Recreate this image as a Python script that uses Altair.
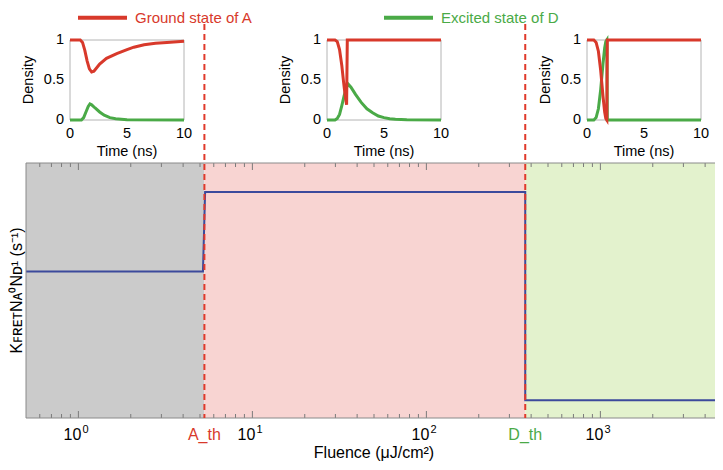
import altair as alt
import pandas as pd

# ---------------- main panel data ----------------
region_names = ["Below A_th", "A_th to D_th", "Above D_th"]
region_start = [0.5, 5.3, 370.0]
region_end = [5.3, 370.0, 5000.0]
region_colors = ["#cbcbcb", "#f8d4d2", "#e3f2cd"]

thresholds = [5.3, 370.0]
threshold_labels = ["A_th", "D_th"]

step_fluence = [0.5, 5.2, 5.35, 370.0, 370.0, 5000.0]
step_rate = [0.575, 0.575, 0.886, 0.886, 0.07, 0.07]

major_ticks = [1, 10, 100, 1000]
major_base = ["10", "10", "10", "10"]
major_exp = ["0", "1", "2", "3"]
minor_ticks = [0.6, 0.7, 0.8, 0.9, 2, 3, 4, 5, 6, 7, 8, 9,
               20, 30, 40, 50, 60, 70, 80, 90,
               200, 300, 400, 500, 600, 700, 800, 900,
               2000, 3000, 4000]

x_title = "Fluence (μJ/cm²)"
y_title = "KꜰʀᴇᴛNᴀ⁰Nᴅ¹ (s⁻¹)"

# ---------------- inset data ----------------
series_names = ["Ground state of A", "Excited state of D"]
series_colors = ["#d8392b", "#4aaa47"]

inset_x_ticks = [0, 5, 10]
inset_x_labels = ["0", "5", "10"]
inset_y_ticks = [0, 0.5, 1]
inset_y_labels = ["0", "0.5", "1"]
inset_x_title = "Time (ns)"
inset_y_title = "Density"

t_red1 = [0, 0.9, 1.1, 1.3, 1.5, 1.7, 1.9, 2.1, 2.6, 3.2, 4.1, 5.0, 5.6, 6.5, 7.5, 8.5, 10]
red1 = [1.0, 1.0, 0.97, 0.87, 0.74, 0.64, 0.60, 0.61, 0.70, 0.77, 0.83, 0.88, 0.91, 0.94, 0.96, 0.97, 0.985]
t_green1 = [0, 1.0, 1.2, 1.4, 1.6, 1.75, 1.9, 2.2, 2.6, 3.0, 3.5, 4.0, 5.0, 10]
green1 = [0, 0.0, 0.03, 0.1, 0.17, 0.2, 0.19, 0.15, 0.1, 0.06, 0.03, 0.015, 0.004, 0]

t_red2 = [0, 0.7, 0.9, 1.1, 1.3, 1.45, 1.6, 1.72, 1.78, 10]
red2 = [1.0, 1.0, 0.98, 0.88, 0.68, 0.48, 0.30, 0.19, 1.0, 1.0]
t_green2 = [0, 0.7, 0.9, 1.1, 1.3, 1.5, 1.7, 1.85, 2.1, 2.5, 3.0, 3.5, 4.0, 4.5, 5.0, 5.5, 6.0, 7.0, 10]
green2 = [0, 0.0, 0.02, 0.07, 0.18, 0.3, 0.4, 0.45, 0.41, 0.32, 0.22, 0.14, 0.09, 0.05, 0.03, 0.015, 0.008, 0.002, 0]

t_red3 = [0, 0.6, 0.8, 1.0, 1.2, 1.4, 1.55, 1.65, 1.74, 1.78, 10]
red3 = [1.0, 1.0, 0.97, 0.86, 0.62, 0.3, 0.1, 0.02, 0.0, 1.0, 1.0]
t_green3 = [0, 0.6, 0.8, 1.0, 1.2, 1.4, 1.55, 1.65, 1.74, 1.78, 10]
green3 = [0, 0.0, 0.03, 0.14, 0.38, 0.7, 0.9, 0.98, 1.0, 0.0, 0.0]

# ---------------- layout ----------------
W, H = 696, 255
INSET_LEFT = [44, 301, 561]
INSET_W = 114
INSET_TOP, INSET_BOTTOM = -123, -43
FONT = "Liberation Sans"
RED_LINE = "#e0392b"

xs = alt.Scale(type="log", domain=[0.5, 5000], nice=False)
ys = alt.Scale(domain=[0, 1], nice=False, zero=False)

regions = pd.DataFrame({"name": region_names, "start": region_start, "end": region_end})
step = pd.DataFrame({"f": step_fluence, "k": step_rate, "i": list(range(len(step_rate)))})
majors = pd.DataFrame({"f": major_ticks, "base": major_base, "exp": major_exp})
minors = pd.DataFrame({"f": minor_ticks})
thr = pd.DataFrame({"f": thresholds, "lab": threshold_labels})
frame = pd.DataFrame({"x0": [0.5], "x1": [5000], "y0": [0], "y1": [1]})

region_layer = alt.Chart(regions).mark_rect().encode(
    x=alt.X("start:Q", scale=xs, axis=None),
    x2="end:Q",
    y=alt.value(0), y2=alt.value(H),
    fill=alt.Fill("name:N", scale=alt.Scale(domain=region_names, range=region_colors), legend=None),
)

step_layer = alt.Chart(step).mark_line(color="#3c4a9c", strokeWidth=2).encode(
    x=alt.X("f:Q", scale=xs, axis=None),
    y=alt.Y("k:Q", scale=ys, axis=None),
    order="i:Q",
)


def tick_layer(df, y0, y1):
    return alt.Chart(df).mark_rule(color="#7a7a7a", strokeWidth=1).encode(
        x=alt.X("f:Q", scale=xs, axis=None), y=alt.value(y0), y2=alt.value(y1))


frame_layer = alt.Chart(frame).mark_rect(fillOpacity=0, stroke="#8a8a8a", strokeWidth=1).encode(
    x=alt.X("x0:Q", scale=xs, axis=None), x2="x1:Q",
    y=alt.Y("y0:Q", scale=ys, axis=None), y2="y1:Q")

dash_layer = alt.Chart(thr).mark_rule(color=RED_LINE, strokeWidth=2, strokeDash=[6, 4]).encode(
    x=alt.X("f:Q", scale=xs, axis=None), y=alt.value(-139), y2=alt.value(H))

# main axis labels (drawn through the log scale)
LAB_Y = H + 22
base_text = alt.Chart(majors).mark_text(fontSize=16, align="right", baseline="alphabetic", dx=3,
                                        color="#000000").encode(
    x=alt.X("f:Q", scale=xs, axis=None), y=alt.value(LAB_Y), text="base:N")
exp_text = alt.Chart(majors).mark_text(fontSize=11, align="left", baseline="alphabetic", dx=4, dy=-7,
                                       color="#000000").encode(
    x=alt.X("f:Q", scale=xs, axis=None), y=alt.value(LAB_Y), text="exp:N")


def thr_text(i):
    return alt.Chart(thr).transform_filter(f"datum.lab == '{threshold_labels[i]}'").mark_text(
        fontSize=16, align="center", baseline="alphabetic", color=series_colors[i]).encode(
        x=alt.X("f:Q", scale=xs, axis=None), y=alt.value(LAB_Y), text="lab:N")


x_title_text = alt.Chart(pd.DataFrame({"t": [x_title]})).mark_text(
    fontSize=16, align="center", baseline="alphabetic", color="#000000").encode(
    x=alt.value(W / 2), y=alt.value(H + 40), text="t:N")
y_title_text = alt.Chart(pd.DataFrame({"t": [y_title]})).mark_text(
    fontSize=16, align="center", baseline="alphabetic", angle=270, color="#000000").encode(
    x=alt.value(-4), y=alt.value(H / 2), text="t:N")

main = alt.layer(
    region_layer, step_layer,
    tick_layer(majors, H, H - 7), tick_layer(minors, H, H - 4),
    tick_layer(majors, 0, 7), tick_layer(minors, 0, 4),
    frame_layer, dash_layer,
    base_text, exp_text, thr_text(0), thr_text(1), x_title_text, y_title_text,
)

legend = alt.Legend(orient="none", legendX=50, legendY=-172, direction="horizontal", title=None,
                    symbolType="stroke", symbolSize=2401, symbolStrokeWidth=4,
                    labelFontSize=15, labelOffset=6, columnPadding=123,
                    labelColor={"expr": f"datum.label == '{series_names[0]}' ? '{series_colors[0]}' : '{series_colors[1]}'"})
cs = alt.Scale(domain=series_names, range=series_colors)


def inset(t_r, v_r, t_g, v_g, left):
    ixs = alt.Scale(domain=[0, 10], range=[left, left + INSET_W], nice=False, zero=False)
    iys = alt.Scale(domain=[0, 1], range=[INSET_BOTTOM, INSET_TOP], nice=False, zero=False)
    box = alt.Chart(pd.DataFrame({"x0": [0], "x1": [10], "y0": [0], "y1": [1]})).mark_rect(
        fillOpacity=0, stroke="#b4b4b4", strokeWidth=1).encode(
        x=alt.X("x0:Q", scale=ixs, axis=None), x2="x1:Q",
        y=alt.Y("y0:Q", scale=iys, axis=None), y2="y1:Q")
    g = alt.Chart(pd.DataFrame({"t": t_g, "v": v_g, "s": series_names[1]})).mark_line(strokeWidth=3).encode(
        x=alt.X("t:Q", scale=ixs, axis=None), y=alt.Y("v:Q", scale=iys, axis=None),
        color=alt.Color("s:N", scale=cs, legend=legend))
    r = alt.Chart(pd.DataFrame({"t": t_r, "v": v_r, "s": series_names[0]})).mark_line(strokeWidth=3).encode(
        x=alt.X("t:Q", scale=ixs, axis=None), y=alt.Y("v:Q", scale=iys, axis=None),
        color=alt.Color("s:N", scale=cs, legend=legend))
    xl = alt.Chart(pd.DataFrame({"t": inset_x_ticks, "lab": inset_x_labels})).mark_text(
        fontSize=14.5, align="center", baseline="alphabetic", color="#000000").encode(
        x=alt.X("t:Q", scale=ixs, axis=None), y=alt.value(INSET_BOTTOM + 18), text="lab:N")
    yl = alt.Chart(pd.DataFrame({"v": inset_y_ticks, "lab": inset_y_labels})).mark_text(
        fontSize=14.5, align="right", baseline="middle", dx=-6, color="#000000").encode(
        x=alt.value(left), y=alt.Y("v:Q", scale=iys, axis=None), text="lab:N")
    xt = alt.Chart(pd.DataFrame({"t": [inset_x_title]})).mark_text(
        fontSize=14.5, align="center", baseline="alphabetic", color="#000000").encode(
        x=alt.value(left + INSET_W / 2), y=alt.value(-7), text="t:N")
    yt = alt.Chart(pd.DataFrame({"t": [inset_y_title]})).mark_text(
        fontSize=14.5, align="center", baseline="alphabetic", angle=270, color="#000000").encode(
        x=alt.value(left - 37), y=alt.value((INSET_TOP + INSET_BOTTOM) / 2), text="t:N")
    return alt.layer(box, g, r, xl, yl, xt, yt)


chart = alt.layer(
    main,
    inset(t_red1, red1, t_green1, green1, INSET_LEFT[0]),
    inset(t_red2, red2, t_green2, green2, INSET_LEFT[1]),
    inset(t_red3, red3, t_green3, green3, INSET_LEFT[2]),
).resolve_scale(x="independent", y="independent", color="shared").properties(
    width=W, height=H,
    autosize=alt.AutoSizeParams(type="none"),
    padding={"left": 18, "top": 155, "right": -7, "bottom": 44},
).configure(font=FONT).configure_view(stroke=None)

chart.save("out.html", embed_options={"renderer": "svg", "actions": False})
